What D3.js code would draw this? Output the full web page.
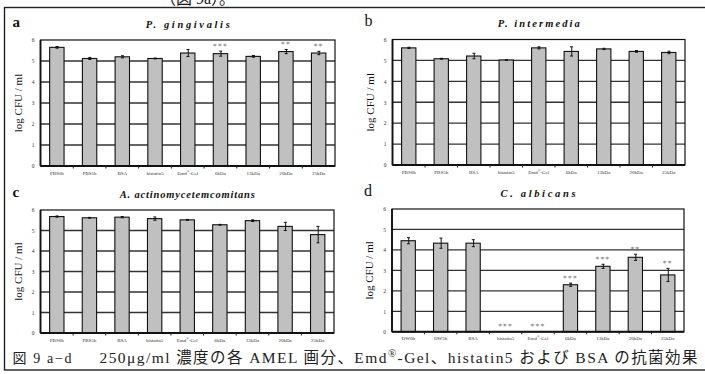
<!DOCTYPE html>
<html><head><meta charset="utf-8">
<script src="https://cdn.jsdelivr.net/npm/d3@7"></script>
<style>
html,body{margin:0;padding:0;background:#fff;overflow:hidden;}
svg{display:block;}
</style></head>
<body>
<svg id="chart" width="705" height="374"></svg>
<script>
// ---- data ----
const catsBacteria = ["PBS0h","PBS5h","BSA","histatin5","Emd®-Gel","6kDa","13kDa","20kDa","25kDa"];
const catsCandida  = ["DW0h","DW5h","BSA","histatin5","Emd®-Gel","6kDa","13kDa","20kDa","25kDa"];
const yTicks = [0,1,2,3,4,5,6];

const valA = [5.65,5.12,5.20,5.12,5.38,5.35,5.22,5.45,5.38];
const errA = [0.04,0.05,0.05,0.02,0.17,0.12,0.04,0.10,0.08];
const sigA = ["","","","","","***","","**","**"];

const valB = [5.60,5.08,5.21,5.02,5.60,5.43,5.55,5.43,5.38];
const errB = [0.03,0.02,0.13,0.01,0.05,0.22,0.03,0.04,0.06];
const sigB = ["","","","","","","","",""];

const valC = [5.68,5.62,5.65,5.58,5.52,5.28,5.48,5.20,4.80];
const errC = [0.03,0.02,0.03,0.08,0.02,0.02,0.04,0.20,0.40];
const sigC = ["","","","","","","","",""];

const valD = [4.45,4.33,4.33,0,0,2.30,3.20,3.64,2.78];
const errD = [0.15,0.25,0.17,0,0,0.08,0.10,0.15,0.32];
const sigD = ["","","","***","***","***","***","**","**"];

const yLabel = "log CFU / ml";
const captionHead = "図 9 a−d";
const topText = "（図 9a）。";

const panels = [
  {letter:"a", bold:true,  title:"P. gingivalis",            cats:catsBacteria, vals:valA, errs:errA, sig:sigA, box:[40.5,335,40,166], titleLen:84},
  {letter:"b", bold:false, title:"P. intermedia",            cats:catsBacteria, vals:valB, errs:errB, sig:sigB, box:[392.5,685,39.5,165], titleLen:82},
  {letter:"c", bold:true,  title:"A. actinomycetemcomitans", cats:catsBacteria, vals:valC, errs:errC, sig:sigC, box:[40.5,334,210,333], titleLen:135},
  {letter:"d", bold:false, title:"C. albicans",              cats:catsCandida,  vals:valD, errs:errD, sig:sigD, box:[392,684,209,331.8], titleLen:75}
];

const svg = d3.select("#chart");
svg.append("rect").attr("width",705).attr("height",374).attr("fill","#fff");

// partial text at top (cut off in the reference as well)
svg.append("text").attr("x",160).attr("y",3.5)
  .attr("font-family","'Liberation Serif','Noto Sans CJK JP',serif")
  .attr("font-size",16).attr("fill","#111").text(topText);

// outer frame
svg.append("rect").attr("x",4.5).attr("y",7.5).attr("width",702).attr("height",362.5)
  .attr("fill","none").attr("stroke","#222").attr("stroke-width",1.4);

const serif = "'Liberation Serif','Times New Roman',serif";

function labelWithReg(sel, s){
  const parts = s.split("®");
  sel.append("tspan").text(parts[0]);
  if(parts.length>1){
    sel.append("tspan").attr("baseline-shift","super").attr("font-size","70%").text("®");
    sel.append("tspan").text(parts[1]);
  }
}

panels.forEach(p=>{
  const [L,R,T,B] = p.box;
  const g = svg.append("g");
  const x = d3.scaleBand().domain(p.cats).range([L,R]).paddingInner(0.56).paddingOuter(0.28);
  const y = d3.scaleLinear().domain([0,6]).range([B,T]);

  // gridlines
  g.selectAll("line.grid").data(yTicks.filter(t=>t>0&&t<6)).join("line")
    .attr("x1",L).attr("x2",R).attr("y1",d=>y(d)).attr("y2",d=>y(d))
    .attr("stroke","#333").attr("stroke-width",1.3);

  // frame
  g.append("rect").attr("x",L).attr("y",T).attr("width",R-L).attr("height",B-T)
    .attr("fill","none").attr("stroke","#111").attr("stroke-width",1.2);
  g.append("line").attr("x1",L).attr("x2",L).attr("y1",T).attr("y2",B)
    .attr("stroke","#111").attr("stroke-width",1.8);

  // bars
  g.selectAll("rect.bar").data(p.cats).join("rect")
    .attr("x",d=>x(d)).attr("width",x.bandwidth())
    .attr("y",(d,i)=>y(p.vals[i])).attr("height",(d,i)=>B-y(p.vals[i]))
    .attr("fill","#c0c0c0").attr("stroke","#111").attr("stroke-width",1.1);

  // bottom axis line
  g.append("line").attr("x1",L).attr("x2",R).attr("y1",B).attr("y2",B)
    .attr("stroke","#111").attr("stroke-width",2);

  // y axis ticks via d3 axis
  const yAx = d3.axisLeft(y).tickValues(yTicks).tickSize(0).tickPadding(6).tickFormat(d3.format("d"));
  const ya = g.append("g").attr("transform",`translate(${L},0)`).call(yAx);
  ya.select(".domain").remove();
  ya.selectAll("text").attr("font-family",serif).attr("font-size",5.5).attr("fill","#333");

  // x axis: labels + small ticks at band boundaries
  const step = x.step();
  g.selectAll("line.xt").data(p.cats.slice(1)).join("line")
    .attr("x1",d=>x(d)-(step-x.bandwidth())/2).attr("x2",d=>x(d)-(step-x.bandwidth())/2)
    .attr("y1",B).attr("y2",B+2.5).attr("stroke","#222").attr("stroke-width",1);
  g.selectAll("text.xl").data(p.cats).join("text")
    .attr("x",d=>x(d)+x.bandwidth()/2).attr("y",B+8.5)
    .attr("text-anchor","middle").attr("font-family",serif).attr("font-size",5)
    .attr("fill","#333")
    .each(function(d){ labelWithReg(d3.select(this), d); });

  // error bars
  p.cats.forEach((c,i)=>{
    const e = p.errs[i];
    if(e<=0) return;
    const cx = x(c)+x.bandwidth()/2+0.5;
    const y1 = y(p.vals[i]+e), y2 = y(p.vals[i]-e);
    g.append("line").attr("x1",cx).attr("x2",cx).attr("y1",y1).attr("y2",y2).attr("stroke","#111").attr("stroke-width",1);
    g.append("line").attr("x1",cx-1.8).attr("x2",cx+1.2).attr("y1",y1).attr("y2",y1).attr("stroke","#111").attr("stroke-width",1);
    g.append("line").attr("x1",cx-1.8).attr("x2",cx+1.2).attr("y1",y2).attr("y2",y2).attr("stroke","#111").attr("stroke-width",1);
  });

  // significance stars
  p.cats.forEach((c,i)=>{
    if(!p.sig[i]) return;
    const top = y(p.vals[i]+p.errs[i]);
    g.append("text").attr("x",x(c)+x.bandwidth()/2).attr("y",top-2.5)
      .attr("text-anchor","middle").attr("font-family","'DejaVu Sans',sans-serif")
      .attr("font-size",7.5).attr("letter-spacing",1.2).attr("fill","#777").text(p.sig[i]);
  });

  // y label
  g.append("text").attr("transform",`translate(${L-19},${(T+B)/2}) rotate(-90)`)
    .attr("text-anchor","middle").attr("font-family",serif).attr("font-size",11)
    .attr("fill","#111").text(yLabel);

  // title
  g.append("text").attr("x",(L+R)/2).attr("y",T-12.5).attr("text-anchor","middle")
    .attr("font-family",serif).attr("font-weight","bold").attr("font-style","italic")
    .attr("font-size",10.5).attr("textLength",p.titleLen).attr("lengthAdjust","spacing")
    .attr("fill","#111").text(p.title);

  // panel letter
  g.append("text").attr("x",L-28).attr("y",T-13.5)
    .attr("font-family",serif).attr("font-weight",p.bold?"bold":"normal")
    .attr("font-size",p.bold?15:16).attr("fill","#111").text(p.letter);
});

// caption
const cap = svg.append("g").attr("font-family","'Liberation Serif','Noto Sans CJK JP',serif").attr("fill","#222");
cap.append("text").attr("x",12.5).attr("y",363).attr("font-size",14)
  .attr("textLength",59).attr("lengthAdjust","spacing").text(captionHead);
const cap2 = cap.append("text").attr("x",99.5).attr("y",363).attr("font-size",15.5)
  .attr("textLength",598).attr("lengthAdjust","spacing");
cap2.append("tspan").text("250μg/ml 濃度の各 AMEL 画分、Emd");
cap2.append("tspan").attr("baseline-shift","super").attr("font-size","70%").text("®");
cap2.append("tspan").text("-Gel、histatin5 および BSA の抗菌効果");
</script>
</body></html>
